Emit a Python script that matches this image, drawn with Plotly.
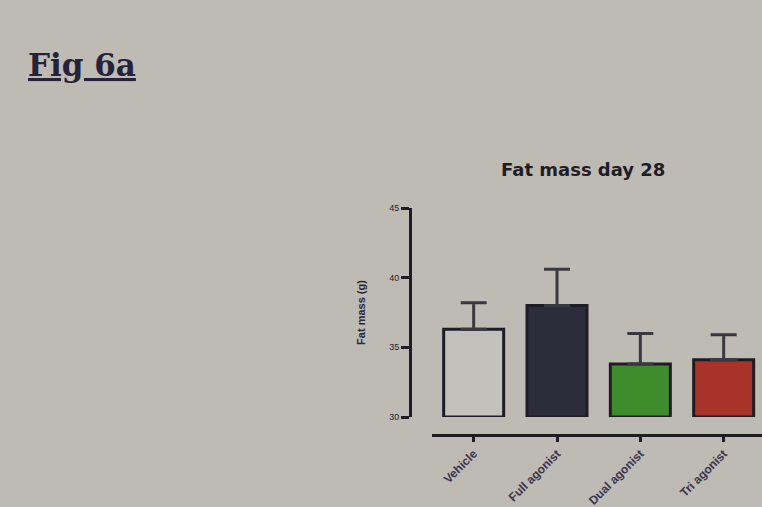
import plotly.graph_objects as go

categories = ["Vehicle", "Full agonist", "Dual agonist", "Tri agonist"]
fat_mass = [36.3, 38.0, 33.8, 34.1]
sem = [1.9, 2.6, 2.2, 1.8]
bar_colors = ["#c3c1bb", "#2c2c3a", "#3f8c2c", "#a93229"]
y_ticks = [30, 35, 40, 45]
Y_MIN, Y_MAX = 30, 45

W, H = 762, 507
BG = "#bebbb5"
INK = "#1e1d24"

fig = go.Figure()
fig.add_trace(go.Bar(
    x=categories,
    y=[v - Y_MIN for v in fat_mass],
    base=Y_MIN,
    marker=dict(color=bar_colors, line=dict(color=INK, width=3)),
    error_y=dict(type="data", symmetric=False, array=sem,
                 arrayminus=[0] * len(sem), visible=True, color="#3a3940",
                 thickness=3, width=13),
    width=0.72,
    showlegend=False,
))

fig.update_layout(
    width=W, height=H,
    paper_bgcolor=BG, plot_bgcolor=BG,
    margin=dict(l=0, r=0, t=0, b=0, autoexpand=False),
    xaxis=dict(
        domain=[432 / W, 1.0],
        anchor="free", position=1 - 435 / H,
        range=[-0.5, 3.46],
        showline=True, linecolor=INK, linewidth=3,
        ticks="outside", ticklen=5, tickwidth=3, tickcolor=INK,
        tickangle=-45,
        tickprefix="<b>", ticksuffix="</b>",
        tickfont=dict(family="Liberation Sans", size=12, color="#3b3550"),
        showgrid=False, zeroline=False, automargin=False,
    ),
    yaxis=dict(
        domain=[1 - 417 / H, 1 - 208 / H],
        anchor="free", position=410 / W,
        range=[Y_MIN, Y_MAX],
        tickvals=y_ticks,
        tickprefix="<b>", ticksuffix="</b>",
        showline=True, linecolor=INK, linewidth=3,
        ticks="outside", ticklen=8, tickwidth=3, tickcolor=INK,
        tickfont=dict(family="Liberation Sans", size=9, color=INK),
        title=dict(text="<b>Fat mass (g)</b>", standoff=20,
                   font=dict(family="Liberation Sans", size=11, color="#2a2830")),
        showgrid=False, zeroline=False, automargin=False,
    ),
    annotations=[
        dict(text="<b>Fat mass day 28</b>", x=583 / W, y=1 - 170 / H,
             xref="paper", yref="paper", showarrow=False, xanchor="center",
             font=dict(family="DejaVu Sans", size=18, color="#1e1d24")),
        dict(text="<b><u>Fig 6a</u></b>", x=26 / W, y=1 - 45 / H,
             xref="paper", yref="paper", showarrow=False, xanchor="left",
             font=dict(family="DejaVu Serif", size=31, color="#26223a")),
    ],
)

fig.write_html(
    "out.html",
    config={"displayModeBar": False},
    post_script="document.body.style.margin='0';document.body.style.background='" + BG + "';",
)
